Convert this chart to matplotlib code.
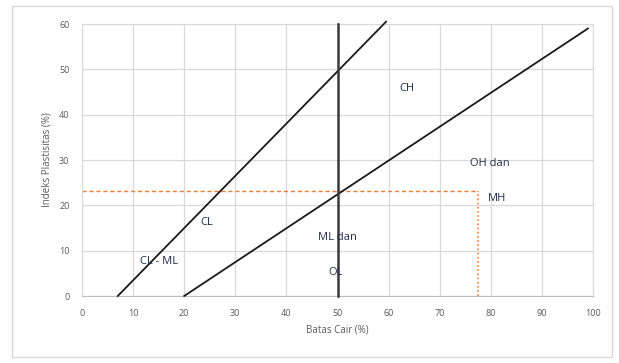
import numpy as np
import matplotlib as mpl
mpl.use('Agg')
import matplotlib.pyplot as plt
from matplotlib.patches import Rectangle

# chart lines (LL, PI)
u_line_x = [7, 59.5]
u_line_y = [0, 60.5]
a_line_x = [20, 99]
a_line_y = [0, 59]
ll_50 = 50
sample_ll = 77.5
sample_pi = 23.2

labels = ['CH', 'OH dan', 'MH', 'CL', 'CL - ML', 'ML dan', 'OL']
label_x = [63.6, 79.8, 81.2, 24.5, 15, 49.9, 49.6]
label_y = [45.7, 29.3, 21.6, 16.3, 7.5, 12.8, 5.1]

xticks = np.arange(0, 101, 10)
yticks = np.arange(0, 61, 10)

plt.rcParams['font.family'] = ['Open Sans', 'DejaVu Sans']

fig = plt.figure(figsize=(6.19, 3.63), dpi=100)
fig.patches.append(Rectangle((12/619, 6/363), 600/619, 351/363, transform=fig.transFigure,
                             fill=False, edgecolor='#d9d9d9', linewidth=1))
ax = fig.add_axes([82/619, 1-296/363, 511/619, 272/363])

ax.plot(u_line_x, u_line_y, color='#1a1a1a', lw=1.3, clip_on=False, zorder=3)
ax.plot(a_line_x, a_line_y, color='#1a1a1a', lw=1.3, clip_on=False, zorder=3)
ax.plot([ll_50, ll_50], [0, 60], color='#3a3a3a', lw=1.8, clip_on=False, zorder=3)
ax.plot([0, sample_ll], [sample_pi, sample_pi], color='#ed7d31', lw=1.0, ls=(0, (3, 2)), zorder=2)
ax.plot([sample_ll, sample_ll], [0, sample_pi], color='#ed7d31', lw=1.2, ls=(0, (1, 1.5)), zorder=2)

for t, x, y in zip(labels, label_x, label_y):
    ax.text(x, y, t, ha='center', va='center', fontsize=8, color='#1f2d4d', zorder=4)

ax.set_xlim(0, 100)
ax.set_ylim(0, 60)
ax.set_xticks(xticks)
ax.set_yticks(yticks)
ax.grid(True, color='#d9d9d9', lw=0.9)
ax.set_axisbelow(True)
for s in ax.spines.values():
    s.set_color('#d9d9d9')
ax.spines['bottom'].set_color('#bfbfbf')
ax.tick_params(length=0, labelsize=6.5, colors='#595959', pad=9)
ax.set_xlabel('Batas Cair (%)', fontsize=7, color='#595959', labelpad=5)
ax.set_ylabel('Indeks Plastisitas (%)', fontsize=7, color='#595959', labelpad=5)

plt.savefig('out.png', dpi=100)
